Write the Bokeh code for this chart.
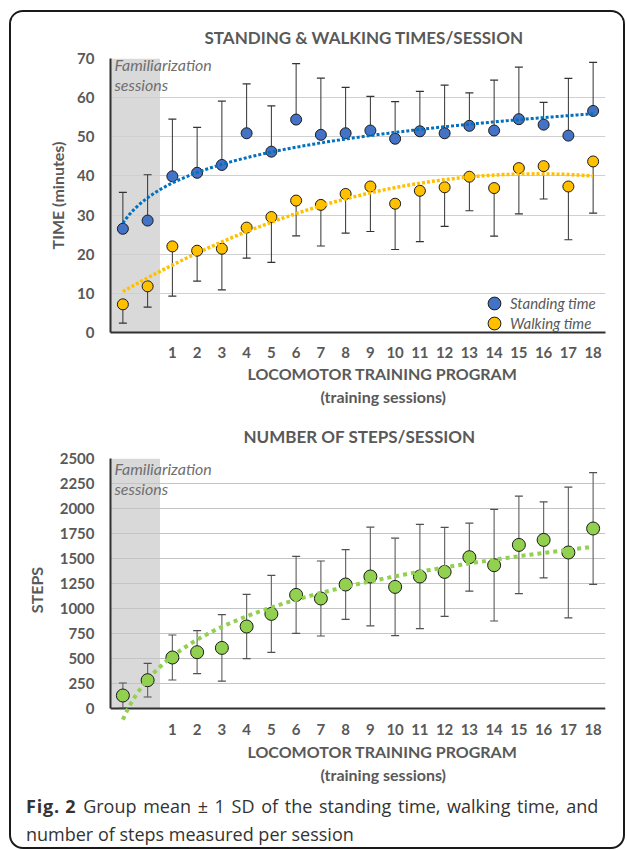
import numpy as np
from bokeh.plotting import figure
from bokeh.models import (Range1d, FixedTicker, BoxAnnotation, Whisker, TeeHead,
                          ColumnDataSource, Label, Legend, LegendItem, Span, Title, Div)
from bokeh.layouts import column
from bokeh.embed import file_html
from bokeh.resources import INLINE

# ---------------- data ----------------
tick_labels = ["", "", "1", "2", "3", "4", "5", "6", "7", "8", "9", "10",
               "11", "12", "13", "14", "15", "16", "17", "18"]
standing_mean = [26.5, 28.6, 39.9, 40.8, 42.8, 50.9, 46.2, 54.4, 50.5, 50.9,
                 51.6, 49.5, 51.4, 50.9, 52.8, 51.6, 54.5, 53.1, 50.3, 56.6]
standing_sd = [9.3, 11.7, 14.6, 11.6, 16.3, 12.6, 11.7, 14.3, 14.5, 11.7,
               8.7, 9.5, 10.2, 12.3, 8.4, 12.9, 13.3, 5.7, 14.6, 12.4]
walking_mean = [7.2, 11.8, 22.0, 20.9, 21.4, 26.8, 29.5, 33.7, 32.6, 35.4,
                37.3, 32.9, 36.2, 37.1, 39.8, 36.9, 42.0, 42.5, 37.3, 43.7]
walking_sd = [4.8, 5.3, 12.7, 7.8, 10.5, 7.8, 11.6, 9.0, 10.5, 10.0,
              11.5, 11.7, 13.0, 10.0, 8.7, 12.3, 11.7, 8.4, 13.6, 13.2]
steps_mean = [130, 283, 510, 563, 606, 820, 946, 1136, 1100, 1240,
              1320, 1216, 1320, 1366, 1513, 1433, 1636, 1686, 1560, 1800]
steps_sd = [125, 168, 225, 215, 333, 322, 385, 385, 375, 348,
            493, 487, 521, 445, 340, 558, 487, 380, 653, 558]
familiarization_count = 2

FONT = "Lato"
TXT = "#595959"

xs = np.arange(1, len(tick_labels) + 1)
xf = np.linspace(1, len(tick_labels), 300)
ticks = [int(v) for v in xs if tick_labels[v - 1] != ""]
overrides = {int(v): tick_labels[v - 1] for v in ticks}


def base_fig(height, ymin, ymax, yticks, top, bottom):
    p = figure(width=612, height=height, x_range=Range1d(0.5, len(xs) + 0.5),
               y_range=Range1d(ymin, ymax), output_backend="svg",
               toolbar_location=None, min_border_left=99, min_border_right=18,
               min_border_top=top, min_border_bottom=bottom)
    p.outline_line_color = None
    p.xgrid.grid_line_color = None
    p.ygrid.grid_line_color = "#d0d0d0"
    p.ygrid.grid_line_width = 1
    p.xaxis.ticker = FixedTicker(ticks=ticks)
    p.xaxis.major_label_overrides = overrides
    p.yaxis.ticker = FixedTicker(ticks=yticks)
    for ax in (p.xaxis, p.yaxis):
        ax.major_tick_line_color = None
        ax.minor_tick_line_color = None
        ax.major_label_text_font = FONT
        ax.major_label_text_font_style = "bold"
        ax.major_label_text_font_size = "15px"
        ax.major_label_text_color = TXT
        ax.axis_line_color = "#303030"
        ax.axis_line_width = 2
        ax.axis_label_text_font = FONT
        ax.axis_label_text_font_style = "bold"
        ax.axis_label_text_font_size = "16px"
        ax.axis_label_text_color = TXT
    p.yaxis.major_label_standoff = 10
    p.title.text_font = FONT
    p.title.text_font_size = "17px"
    p.title.text_color = TXT
    p.title.text_font_style = "bold"
    p.title.align = "left"
    return p


def add_common(p, ytop, fam_dy):
    band = BoxAnnotation(left=0.5, right=familiarization_count + 0.5, bottom=0, top=ytop,
                         fill_color="#d9d9d9", fill_alpha=1, line_color=None, level="image")
    p.add_layout(band)
    p.add_layout(Label(x=0.66, y=ytop, y_offset=fam_dy, text="Familiarization\nsessions",
                       text_baseline="top", text_font=FONT, text_font_style="italic",
                       text_font_size="16px", text_color="#6f6f6f", text_line_height=1.1))


def add_xtitle(p, s1, s2):
    p.add_layout(Title(text="LOCOMOTOR TRAINING PROGRAM", align="left", offset=137,
                       standoff=s1, text_font=FONT, text_font_style="bold",
                       text_font_size="16px", text_color=TXT), "below")
    p.add_layout(Title(text="(training sessions)", align="left", offset=210,
                       standoff=s2, text_font=FONT, text_font_style="bold",
                       text_font_size="16px", text_color=TXT), "below")


# ---------------- top chart ----------------
p1 = base_fig(400, 0, 70, list(range(0, 71, 10)), 46, 80)
p1.title.text = "STANDING & WALKING TIMES/SESSION"
p1.title.offset = 94
p1.title.standoff = 22
p1.yaxis.axis_label = "TIME (minutes)"
p1.yaxis.axis_label_standoff = 7
p1.xaxis.major_label_standoff = 8
add_common(p1, 70, 4)

sm = np.array(standing_mean)
ssd = np.array(standing_sd)
wm = np.array(walking_mean)
wsd = np.array(walking_sd)
src1 = ColumnDataSource(dict(x=xs, sm=sm, stop=sm + ssd, wm=wm, wbot=wm - wsd))
p1.add_layout(Whisker(source=src1, base="x", lower="sm", upper="stop", dimension="height",
                      line_color="#333333", line_width=1, lower_head=None,
                      upper_head=TeeHead(size=8, line_color="#333333", line_width=1.2)))
p1.add_layout(Whisker(source=src1, base="x", lower="wbot", upper="wm", dimension="height",
                      line_color="#333333", line_width=1, upper_head=None,
                      lower_head=TeeHead(size=8, line_color="#333333", line_width=1.2)))

r_st = p1.scatter("x", "sm", source=src1, size=11, fill_color="#4472C4",
                  line_color="#1a1a1a", line_width=1)
r_wk = p1.scatter("x", "wm", source=src1, size=11, fill_color="#FFC000",
                  line_color="#1a1a1a", line_width=1)

b_s, a_s = np.polyfit(np.log(xs), sm, 1)
p1.line(xf, a_s + b_s * np.log(xf), line_color="#0070C0", line_width=3, line_dash="3 2")
cw = np.polyfit(xs, wm, 2)
p1.line(xf, np.polyval(cw, xf), line_color="#FFC000", line_width=3.5, line_dash="3 2")

for lab, r, ly in (("Standing time", r_st, 13), ("Walking time", r_wk, -7)):
    p1.add_layout(Legend(items=[LegendItem(label=lab, renderers=[r])],
                         location=(368, ly), glyph_width=32, glyph_height=32,
                         label_standoff=-9, padding=0, margin=0, border_line_color=None,
                         background_fill_alpha=0, label_text_font=FONT,
                         label_text_font_style="italic", label_text_font_size="15px",
                         label_text_color=TXT))
add_xtitle(p1, 3, 1)

# ---------------- bottom chart ----------------
p2 = base_fig(374, -130, 2500, list(range(0, 2501, 250)), 46, 65)
p2.title.text = "NUMBER OF STEPS/SESSION"
p2.title.offset = 133
p2.title.standoff = 23
p2.yaxis.axis_label = "STEPS"
p2.yaxis.axis_label_standoff = 11
p2.yaxis.bounds = (0, 2500)
p2.xaxis.axis_line_color = None
p2.xaxis.major_label_standoff = -4
p2.ygrid.grid_line_color = "#c4c4c4"
add_common(p2, 2500, 0)
p2.add_layout(Span(location=0, dimension="width", line_color="#303030", line_width=2,
                   level="underlay"))

stm = np.array(steps_mean)
stsd = np.array(steps_sd)
src2 = ColumnDataSource(dict(x=xs, m=stm, lo=np.maximum(stm - stsd, 0), hi=stm + stsd))
p2.add_layout(Whisker(source=src2, base="x", lower="lo", upper="hi", dimension="height",
                      line_color="#6a6a6a", line_width=1.2,
                      lower_head=TeeHead(size=8, line_color="#505050", line_width=1.2),
                      upper_head=TeeHead(size=8, line_color="#505050", line_width=1.2)))
p2.scatter("x", "m", source=src2, size=13, fill_color="#92D050", line_color="#1a1a1a",
           line_width=1)
b_t, a_t = np.polyfit(np.log(xs), stm, 1)
p2.line(xf, a_t + b_t * np.log(xf), line_color="#92D050", line_width=4, line_dash="4 4")
add_xtitle(p2, 4, 1)

# ---------------- caption ----------------
caption = Div(
    text=("<div style=\"font-family:'Open Sans';font-size:18px;line-height:28px;"
          "color:#333333;padding:6px 0 0 15px;white-space:nowrap\">"
          "<b style=\"margin-right:2px;letter-spacing:0.8px\">Fig. 2</b> "
          "<span style=\"word-spacing:2px\">Group mean \u00b1 1 SD of the standing "
          "time, walking time, and</span><br>number of steps measured per session</div>"),
    width=612, height=61, margin=0)

layout = column(p1, p2, caption, spacing=0,
                styles={"border": "2px solid #1a1a1a", "border-radius": "14px",
                        "margin": "10px 0 0 9px", "overflow": "hidden"})
open("out.html", "w").write(file_html(layout, INLINE))
